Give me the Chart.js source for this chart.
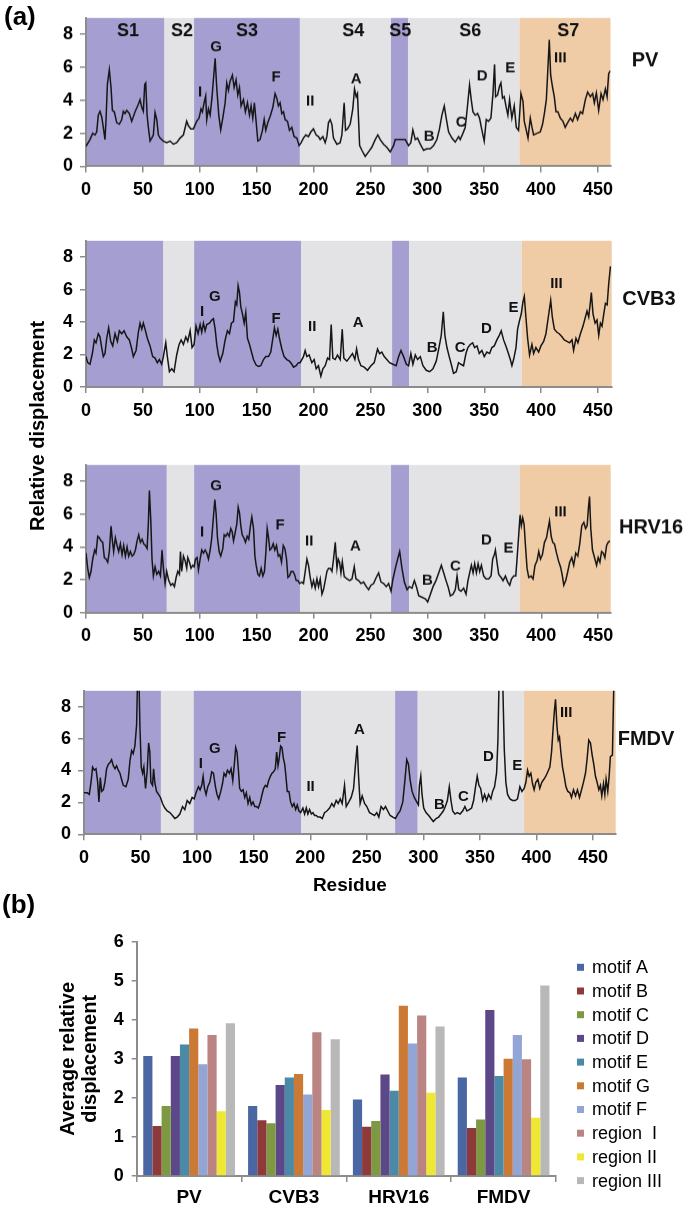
<!DOCTYPE html>
<html><head><meta charset="utf-8">
<script src="https://cdn.jsdelivr.net/npm/chart.js@4.4.1/dist/chart.umd.min.js"></script>
<style>
html,body{margin:0;padding:0;background:#fff;}
#page{position:relative;width:687px;height:1209px;overflow:hidden;font-family:'Liberation Sans',Arial,Helvetica,sans-serif;}
.box{position:absolute;left:0;width:687px;}
.lbl{position:absolute;font-weight:bold;color:#000;white-space:nowrap;}
</style></head><body>
<div id="page">
  <div class="box" id="b1"><canvas id="c1"></canvas></div>
  <div class="box" id="b2"><canvas id="c2"></canvas></div>
  <div class="box" id="b3"><canvas id="c3"></canvas></div>
  <div class="box" id="b4"><canvas id="c4"></canvas></div>
  <div class="box" id="b5"><canvas id="c5"></canvas></div>
  <div class="lbl" style="left:4px;top:3px;font-size:26px;line-height:26px;">(a)</div>
  <div class="lbl" style="left:2px;top:891px;font-size:26px;line-height:26px;">(b)</div>
  <div class="lbl" style="left:-113px;top:414px;width:300px;text-align:center;font-size:20px;line-height:24px;transform:rotate(-90deg);">Relative displacement</div>
</div>
<script>
// ---------------- data ----------------
const pvRes = [0,3.5,5.9,7.9,9.4,10.8,12.3,13.8,15.2,16.7,17.6,18.8,20.5,22,23.2,24.9,27,29.3,31.4,32.8,34.3,35.8,38.1,40.2,43.1,46,47.5,49,50.4,51.6,52.5,53.7,54.8,56.3,57.8,59.2,60.7,62.2,63.6,65.1,68,70.9,73.9,76.8,79.7,82.7,85.6,88.5,90,92.1,94.4,97.3,99.4,101.1,102.3,103.8,105.2,106.1,107.6,109.1,110.8,112.3,113.5,114.9,116.7,118.4,120.2,122.3,123.7,125.2,126.6,128.7,130.2,131.9,133.4,134.9,136.3,138.4,140.1,141.9,143.7,145.1,146.6,148,149.5,151,153,155.1,156.6,158,159.8,161.8,164.2,166.2,167.7,169.1,170.6,172.1,173.6,175,177.1,178.8,180.9,182.9,185.3,187.3,189.1,191.1,193.2,195.5,197.6,199.9,202.3,204.3,205.8,208.2,210.2,211.7,213.1,214.6,216.1,217.5,220.5,223.4,224.9,226.9,228.1,229.8,232.2,234.5,236,237.5,238.6,240.5,242.5,245.4,248.3,251.2,254.2,256.5,258.6,261.5,264.4,267.4,270.3,271.8,276.2,280.6,283.5,285.5,287.3,289.4,291.4,293.8,296.7,299.6,302.6,305.5,308.4,310.7,312.8,314.9,316.6,318.7,321.6,324.5,327.5,328.9,331.3,333.3,334.8,337.1,338.6,340.1,342.1,344.2,345.9,348,350,351.8,353.8,355.9,357.7,359.1,360,361.7,363.5,364.7,366.1,367.6,369.1,370.8,372.3,374.3,376.4,378.2,380.2,382.3,384.1,385.2,387,388.5,390.5,392,393.4,396.4,399.3,401.3,403.1,404.6,405.7,407.2,408.4,410.1,411.6,413.1,414.8,416.9,419.2,421.2,423.3,425.7,427.7,430.1,432.1,434.5,436.5,438.9,440.9,443.3,445.3,446.8,448.6,450.6,452.7,454.4,456.5,458,459.4,460.9];
const pvVal = [1.21,1.62,2.0,1.9,2.08,3.1,3.33,3.0,2.36,1.62,2.8,4.97,5.86,4.78,3.39,3.3,2.64,2.55,2.83,3.33,3.2,3.39,3.2,2.73,3.3,3.76,4.04,3.57,3.33,4.97,5.06,3.1,2.36,1.53,1.71,1.9,3.26,2.83,1.9,1.71,1.53,1.43,1.53,1.34,1.43,1.71,1.9,2.73,2.46,2.27,2.27,2.73,2.92,3.48,3.3,3.85,4.26,2.83,3.48,3.1,4.22,5.53,6.55,4.78,3.1,2.21,2.92,3.85,5.06,4.6,5.15,5.53,4.78,5.24,4.32,4.78,3.66,4.04,3.3,3.85,3.1,3.66,2.92,3.85,2.73,1.53,1.62,2.18,2.83,2.18,2.64,3.01,3.57,4.41,4.13,3.66,3.85,3.2,3.3,2.83,2.73,2.18,2.36,1.8,1.71,1.25,1.43,1.71,1.9,1.8,2.08,2.27,1.9,1.8,1.62,1.8,1.43,1.8,2.64,2.83,2.55,1.71,1.34,1.43,1.9,3.85,2.18,2.27,2.55,3.48,4.69,4.22,4.41,1.25,0.97,0.6,0.87,1.15,1.62,1.9,1.62,1.34,1.15,0.87,1.25,1.62,1.62,1.62,1.25,1.43,2.21,1.62,1.71,1.34,0.97,1.06,1.06,1.25,1.62,2.27,3.1,3.66,2.92,2.08,1.71,1.47,1.8,1.62,2.0,2.36,3.3,4.93,4.04,3.3,3.1,3.2,2.92,2.18,1.53,2.83,2.73,2.92,4.41,6.18,4.22,4.32,4.87,5.06,4.13,4.22,3.66,3.1,4.04,2.92,3.66,2.36,2.18,4.41,3.94,2.73,2.18,1.71,2.92,2.36,1.9,2.0,2.08,2.55,3.3,4.04,5.53,7.67,5.53,4.78,4.22,3.3,3.3,2.92,2.73,2.36,2.64,2.92,2.73,3.2,2.83,3.3,3.2,4.04,4.5,4.22,4.41,3.85,4.45,3.39,4.41,4.04,4.69,4.22,5.62,5.8];

const cvRes = [0,1.5,3.5,5.6,7.3,8.8,10.8,12.3,13.8,15.2,16.7,18.2,19.9,21.7,23.5,25.5,27.6,29.3,31.4,33.4,35.8,38.1,40.2,41.6,44,46,47.5,49,50.4,51.9,53.9,56.3,58.6,60.7,62.7,64.5,66.5,68,70.1,71.5,73.3,75.3,77.4,79.7,81.8,83.6,85.6,87.7,89.4,91.5,93.2,95,96.7,98.5,100.3,101.7,103.2,104.7,106.1,108.5,110.5,112,113.5,114.9,116.4,117.9,120.2,122.3,124.3,126.1,127.8,129.6,131.3,132.5,133.7,134.9,136,137.5,139,140.4,141.9,143.7,145.1,147.2,149.5,151.6,153.6,156,158,160.4,162.4,164.2,165.6,167.1,168.6,170,172.1,174.1,176.5,178.8,180.9,182.4,184.7,186.7,188.2,191.1,192.6,194.1,196.1,198.5,200.5,202.3,204.3,206.4,208.2,210.2,212.3,214,215.5,216.9,219,221,223.4,225.2,226.6,229.3,232.2,234.2,236.3,237.8,239.5,241.6,244.5,247.4,250.4,253.3,256.2,258,260,262.1,264.4,266.8,269.7,272.6,274.7,276.8,279.1,281.5,283.5,285.5,287.3,289.4,291.4,293.8,296.1,299,302,304.9,307.8,310.2,312.2,314,315.4,317.2,319.2,321,323,325.4,327.4,329.5,331.8,333.9,335.6,337.7,339.8,341.5,343.6,345.6,347.9,350,352.3,354.7,356.7,358.8,361.1,363.2,364.9,367,369,370.8,372.9,374.3,375.8,377.9,379.3,380.8,382.5,384,385.2,386.6,388.1,389.8,391.9,393.4,395.4,397.8,399.8,402.2,404.2,406.3,408.4,409.8,411.6,413.9,415.9,418.3,420.3,422.7,425,427.1,428.5,430.6,432.3,434.5,436.8,438.9,440.3,441.8,443.3,444.1,445.6,447.4,449.1,450.6,452.1,453.5,455,456.5,458,459.4,460.9];
const cvVal = [1.87,1.5,1.4,2.06,2.9,2.72,3.28,3.09,2.43,1.87,2.06,3.0,3.65,2.81,2.53,3.28,2.81,3.46,3.28,3.46,3.09,2.9,2.34,1.87,2.25,3.37,3.93,3.56,3.93,3.56,3.0,2.53,1.87,1.78,1.5,1.69,1.4,1.87,2.72,1.87,0.94,1.12,0.94,1.97,2.62,2.9,2.62,3.09,2.81,3.46,2.43,2.62,3.75,3.28,3.84,3.37,3.93,3.46,3.84,3.93,4.12,4.21,3.56,2.62,1.97,1.59,2.06,2.9,3.46,3.28,3.93,4.03,5.24,5.06,6.24,5.81,4.96,4.49,3.93,4.59,3.0,2.62,2.25,1.69,1.35,1.27,1.31,1.69,1.87,1.87,2.15,3.0,3.65,3.18,3.56,3.0,2.34,1.87,1.69,1.59,1.4,1.22,1.31,1.5,1.5,1.87,2.25,1.87,1.97,1.5,1.69,1.12,1.31,0.66,1.12,1.31,1.78,1.69,3.84,1.78,1.69,1.97,1.69,3.56,1.78,1.59,1.87,2.06,1.69,2.34,1.69,1.31,1.22,1.03,1.31,1.5,2.34,2.06,2.15,1.87,1.69,1.5,1.4,1.31,1.87,2.25,1.87,1.4,1.31,2.06,1.4,1.97,1.69,1.87,1.31,1.03,0.94,1.12,1.59,2.43,3.18,4.63,3.18,2.43,1.87,1.4,0.84,0.94,1.5,1.4,1.31,2.06,2.43,2.62,2.72,2.43,2.53,2.06,2.25,1.87,2.15,2.06,2.43,2.53,2.9,3.18,3.46,2.9,2.53,2.15,1.69,1.31,1.69,2.43,3.56,4.03,4.49,5.24,5.58,4.31,3.0,1.97,2.62,2.06,2.43,2.15,2.53,2.81,3.28,4.31,5.34,4.31,3.56,3.37,3.28,3.09,2.9,2.81,2.72,2.9,2.25,3.0,2.72,3.28,3.75,4.31,4.68,4.31,5.24,5.81,4.49,3.93,4.12,3.18,3.93,3.75,4.49,5.15,5.06,6.37,7.43];

const hrRes = [0,1.5,2.9,4.4,5.9,7.6,8.8,10.3,11.7,13.2,14.7,16.1,17.6,19.1,20.5,22,23.2,24.3,25.8,27.3,28.7,30.2,31.7,33.1,34.6,36.1,37.5,39,40.5,41.9,43.4,44.9,46.3,47.8,49.3,50.7,52.2,53.7,54.8,55.7,56.9,58,59.2,60.7,62.2,63.9,65.4,66.8,68,69.5,70.9,72.7,74.5,76.2,77.7,79.2,80.6,82.1,83,84.1,85.6,87.1,88.5,89.4,90.9,92.3,93.8,95,96.2,97.6,98.8,100.3,101.7,103.2,104.7,106.1,107.6,109.1,110.5,112,113.2,114.3,115.5,117,118.4,120.2,121.4,122.8,124.3,125.8,127.2,128.4,129.6,131,132.5,133.7,134.9,136,137.2,138.7,140.1,141.6,143,144.5,145.7,147.2,148.4,149.5,151,152.4,153.9,155.4,156.8,158,159.2,160.4,161.5,163,164.5,165.9,167.4,168.9,170.3,171.8,173.3,174.7,176.2,177.4,178.8,180.3,181.8,183.2,184.7,186.2,187.6,189.7,191.1,192.6,194.1,195.5,197,198.5,199.9,201.4,202.9,204.3,205.8,207.3,208.7,210.2,211.7,213.1,214.6,216.1,217.5,219,220.5,221.6,222.8,224,225.2,226.9,229.3,231.6,233.7,235.7,237.2,239.5,241.6,243.9,246.3,248.3,250.4,252.7,255,257.1,259.2,261.5,263.8,265.9,268,269.7,271.8,273.8,275.6,277.6,279.7,282.1,284.1,286.4,288.5,290.3,292.3,295.3,298.2,300.2,302.6,304.9,307.5,309.9,312.2,314.3,316.3,318.1,320.1,322.5,324.5,326,327.5,329.5,331.8,333.9,335.6,337.1,338.6,340.1,341.5,343,344.5,345.9,347.4,349.4,351.5,353.8,355.9,357.3,358.8,359.7,361.1,362.6,364.7,366.4,368.5,370.5,372.3,373.8,375.8,377.6,378.8,380.2,381.4,382.5,383.7,384.9,386,387.5,389,391,392.8,394.5,396.3,397.8,399.3,401,402.8,404.6,406,407.2,408.7,410.1,411.6,413.4,415.1,416.9,418.3,419.8,421.5,423.3,425,426.8,428.5,430.3,432.1,433.8,435.6,437.4,438.9,440.3,441.5,442.4,443.5,445,446.8,448.6,450,451.5,453,454.4,455.9,457.4,458.8,460.3];
const hrVal = [3.63,2.7,2.14,2.51,3.26,3.81,3.63,4.65,4.56,4.37,4.28,3.35,3.26,3.07,3.72,5.27,4.37,3.72,4.56,4.09,3.72,4.19,3.53,4.09,3.44,4.0,3.44,3.72,3.44,3.53,3.81,4.37,4.74,4.28,4.47,4.19,4.09,3.91,5.49,7.44,5.67,3.26,2.23,2.79,2.33,2.51,2.23,3.81,2.7,1.77,2.51,1.95,1.67,1.77,1.58,2.14,2.51,2.33,3.72,2.51,3.44,3.16,2.7,3.35,3.07,2.7,2.88,2.79,3.26,3.35,2.6,3.26,3.81,3.63,3.81,3.63,3.26,3.81,4.56,5.86,6.88,6.05,4.56,3.72,3.44,3.91,4.74,4.65,4.84,4.65,5.12,4.93,4.37,4.84,5.4,6.42,6.05,5.3,4.74,4.56,4.28,4.65,4.47,5.3,5.82,5.12,3.44,2.88,2.33,2.23,2.7,2.23,2.51,3.63,5.12,4.56,3.81,3.91,4.19,3.81,4.09,3.44,3.53,3.07,4.09,3.91,3.26,2.14,2.23,2.51,2.51,2.33,1.95,1.95,1.77,1.86,1.77,2.51,3.26,2.88,2.14,1.58,1.95,1.49,2.05,1.58,2.05,1.12,1.4,1.95,2.51,2.7,2.7,2.51,3.26,4.28,2.7,3.26,3.07,2.42,3.1,2.2,2.05,1.95,2.05,2.79,2.05,1.95,1.77,1.86,1.58,1.4,1.67,1.77,2.14,2.42,1.86,1.77,1.58,1.77,1.3,2.05,2.7,3.26,3.72,2.7,1.86,1.4,1.58,1.49,1.95,1.58,1.02,0.93,0.84,0.65,1.12,1.58,1.95,2.42,2.88,2.42,1.95,1.58,1.02,1.12,1.4,2.23,1.4,1.3,1.49,1.12,1.95,2.42,2.88,2.42,2.98,2.42,2.98,2.51,2.88,2.23,2.05,2.05,2.23,3.26,3.53,3.81,3.07,2.33,2.14,1.95,2.23,1.86,1.67,2.05,2.23,2.23,3.35,4.74,5.95,5.3,5.77,5.4,4.19,2.7,2.14,2.23,2.05,2.88,3.16,3.72,3.26,3.53,4.28,4.56,5.12,5.58,4.65,4.28,4.19,3.63,3.16,2.79,2.33,1.67,1.95,2.51,3.07,3.35,2.88,3.63,3.44,4.19,5.3,5.49,5.12,5.3,6.42,7.07,5.12,3.81,3.35,2.88,3.35,3.07,3.72,3.63,3.35,4.09,4.28,4.37];

const fmRes = [0,2.9,4.7,6.2,7.6,9.1,10.6,12.1,13.2,14.4,15.6,17.1,18.5,20,21.5,22.9,24.4,25.9,27.4,28.8,30.3,31.8,33.2,34.7,37.1,39.1,40.6,42.1,43.5,45,46.5,47.4,48.5,49.4,50.6,51.8,52.9,54.4,55.9,57.1,58.2,59.1,60.6,61.5,62.6,64.1,65.9,67.6,69.4,71.5,73.5,75.9,78.2,80.3,82.4,84.7,87.1,89.1,91.2,93.5,95.6,97.4,99.4,101.2,102.6,104.1,105.3,106.5,107.9,109.4,111.2,112.9,114.4,116.2,117.6,119.1,120.9,122.4,123.8,125.3,126.8,128.5,130,131.5,132.9,134.1,135.3,136.5,137.6,139.1,140.6,142.1,143.5,145,146.5,147.9,149.4,150.9,152.4,154.1,155.9,157.4,158.8,160.3,161.8,163.2,164.7,166.2,167.6,169.1,170.3,171.5,172.6,173.8,175,176.2,177.4,178.5,179.7,181.2,182.6,184.1,185.6,187.1,188.5,190,191.5,193.5,195,196.5,197.9,199.4,201,202.4,203.8,205.3,206.8,208.8,210.6,212.6,214.7,217.1,219.1,220.9,222.9,224.7,226.5,228.2,230.3,231.8,234.1,236.2,238.3,240,241.5,242.7,244.1,245.9,248,250,252.4,254.7,256.8,258.8,260.6,262.6,264.7,266.5,268.5,270.6,273,275.3,277.4,279.4,281.8,283.5,285.3,286.8,288.2,290,292,294.1,295.6,296.5,297.7,298.8,300.3,302.3,304.7,306.7,308.8,311.2,313.5,315.6,317.6,319.4,321.2,322.9,324.4,325.9,327.9,330,332.4,334.7,336.7,338.5,340.6,342.6,344.4,345.9,347.6,349.1,350.6,352.4,354.1,355.9,357.6,359.7,361.2,362.9,364.7,365.9,367,370,371.5,372.9,374.4,376.5,378.8,381.2,383.2,385.3,387.1,389.1,390.6,392.1,393.5,395,396.5,397.9,399.4,401.2,402.9,404.7,406.5,408.2,410,411.8,413.3,414.7,415.9,416.8,418,419.2,420.3,421.5,423,424.5,426,427.7,429.5,430.9,432.7,434.5,436.2,438,439.8,441.5,443.3,444.8,446.2,447.7,449.2,450.6,452.1,453.6,455.1,456.5,457.7,459.2,460.4,461.5,463,464.2,465.3,467.1,468.5];
const fmVal = [2.6,2.6,2.5,3.26,4.21,4.02,4.11,3.26,2.03,3.55,2.69,2.79,3.26,4.11,4.4,4.49,4.68,4.3,4.11,4.3,4.02,3.83,3.45,3.07,2.98,3.45,4.59,5.25,5.06,5.54,6.86,10,10,6.86,4.21,3.83,4.21,2.88,4.02,5.73,5.16,3.26,3.07,4.11,3.26,2.69,2.5,2.31,1.93,1.65,1.46,1.36,1.18,0.99,1.08,1.27,1.74,1.55,2.12,1.93,2.31,2.22,2.69,2.98,2.79,3.07,3.64,2.88,2.5,2.98,3.26,3.92,3.83,2.98,2.5,2.22,2.69,3.17,3.83,3.64,4.02,3.83,4.11,3.36,4.4,5.44,5.16,4.02,2.88,2.69,2.79,2.31,2.6,1.93,2.31,1.84,2.03,1.74,1.74,1.65,2.03,2.5,2.88,3.07,2.98,3.36,3.64,3.83,3.92,4.11,5.16,4.3,4.78,5.54,5.44,4.78,4.4,3.64,2.69,2.69,2.03,1.74,1.93,1.55,1.84,1.46,1.36,1.65,1.27,1.65,1.27,1.55,1.27,1.36,1.18,1.18,1.08,1.08,0.99,1.36,1.46,1.65,1.93,1.74,2.12,1.93,2.22,1.93,3.07,1.74,2.03,2.31,2.88,4.4,5.57,3.64,1.93,2.41,1.93,1.74,1.36,1.27,1.18,1.36,1.08,1.74,1.55,1.74,1.46,1.18,1.08,0.99,1.27,1.46,2.03,3.26,4.68,4.4,3.45,2.69,2.31,2.03,1.84,3.07,3.64,2.5,1.65,1.36,1.18,0.99,0.8,0.99,1.08,1.27,1.46,1.74,2.12,2.98,2.12,1.46,1.27,1.36,1.27,1.46,1.74,1.46,1.55,1.65,2.12,2.88,3.64,3.07,2.88,2.12,2.5,2.12,2.5,2.22,2.69,2.98,3.83,5.91,10,10,5.35,3.26,2.5,2.22,2.12,2.12,2.22,2.98,2.69,2.88,3.26,4.02,3.64,3.83,3.17,2.79,3.26,3.45,2.88,3.26,3.45,3.64,3.92,4.21,5.16,6.67,7.81,8.47,6.86,5.91,6.1,5.16,4.21,3.64,2.98,2.69,2.6,2.31,2.79,2.41,2.79,2.31,2.79,3.26,3.83,4.78,5.91,5.73,4.97,4.4,3.64,3.26,2.79,3.07,2.41,3.17,2.5,3.45,2.69,3.64,4.87,4.97,10];

// segment boundaries (residue numbers) for the shaded regions S1..S7
const pvBounds = [0,69,95,188,268,283,381,461];
const cvBounds = [0,68,95,189,269,284,383,462];
const hrBounds = [0,71,95,188,268,284,381,461];
const fmBounds = [0,68,97,192,275,295,389,470];
const segNames = ['S1','S2','S3','S4','S5','S6','S7'];
const segAt = [36.9,84.4,141.6,234.8,276.2,337.7,423.9];

// motif / region labels: [text, residue, displacement]
const pvMarks = [['G',114.3,7.23],['I',100.3,4.5],['F',167.1,5.39],['II',197,3.94],['A',237.5,5.28],['B',301.7,1.82],['C',329.8,2.66],['D',348.3,5.45],['E',372.9,5.95],['III',416.9,6.56]];
const cvMarks = [['G',113.2,5.53],['I',102,4.64],['F',167.1,4.18],['II',198.8,3.69],['A',239.2,3.92],['B',304.3,2.4],['C',328.9,2.4],['D',351.8,3.58],['E',375.6,4.87],['III',413.4,6.33]];
const hrMarks = [['G',114.3,7.69],['I',102,4.9],['F',170.6,5.35],['II',196.1,4.34],['A',236.6,4.06],['B',299.9,1.94],['C',324.5,2.83],['D',351.8,4.4],['E',371.2,3.89],['III',416.9,6.13]];
const fmMarks = [['G',115.6,5.35],['I',103.2,4.44],['F',174.7,6.03],['II',200.3,2.96],['A',243.5,6.54],['B',314.1,1.82],['C',335.3,2.33],['D',357.4,4.84],['E',382.9,4.32],['III',426.2,7.62]];

const yTicksLine = [0,2,4,6,8];

// panel (b)
const viruses = ['PV','CVB3','HRV16','FMDV'];
const seriesNames = ['motif A','motif B','motif C','motif D','motif E','motif G','motif F','region  I','region II','region III'];
const motifA = [3.07,1.79,1.96,2.52];
const motifB = [1.28,1.43,1.26,1.23];
const motifC = [1.79,1.35,1.41,1.45];
const motifD = [3.07,2.33,2.60,4.25];
const motifE = [3.37,2.52,2.18,2.56];
const motifG = [3.78,2.61,4.36,3.00];
const motifF = [2.86,2.09,3.39,3.61];
const regionI = [3.61,3.68,4.11,2.99];
const regionII = [1.66,1.69,2.13,1.49];
const regionIII = [3.91,3.50,3.83,4.88];

// ---------------- styles ----------------
const FONT = "'Liberation Sans', Arial, Helvetica, sans-serif";
const AXIS = '#8c8c8c';
const SHADE = ['#a59fd1','#e3e3e6','#a59fd1','#e3e3e6','#a59fd1','#e3e3e6','#f0cca6'];
const BARCOL = ['#4a67a3','#8e3a3a','#7d9a43','#5c4889','#4a8aa6','#cb7934','#92a5d5','#ba8483','#eee835','#b8b8b8'];

const shadePlugin = {
  id: 'shade',
  beforeDraw(chart, args, opts) {
    const {ctx, chartArea: a, scales: {x}} = chart;
    const b = opts.bounds;
    ctx.save();
    for (let i = 0; i < b.length - 1; i++) {
      const x0 = x.getPixelForValue(b[i]), x1 = x.getPixelForValue(b[i + 1]);
      ctx.fillStyle = SHADE[i];
      ctx.fillRect(x0, a.top, x1 - x0, a.bottom - a.top);
    }
    ctx.restore();
  }
};

const markPlugin = {
  id: 'marks',
  afterDatasetsDraw(chart, args, opts) {
    const {ctx, scales: {x, y}} = chart;
    ctx.save();
    ctx.fillStyle = '#111';
    ctx.textAlign = 'center';
    ctx.textBaseline = 'middle';
    ctx.font = 'bold 15px ' + FONT;
    opts.marks.forEach(([t, r, v]) => ctx.fillText(t, x.getPixelForValue(r), y.getPixelForValue(v)));
    if (opts.segs) {
      ctx.font = 'bold 18px ' + FONT;
      segNames.forEach((t, i) => ctx.fillText(t, x.getPixelForValue(segAt[i]), y.getPixelForValue(8.18)));
    }
    ctx.font = 'bold 20px ' + FONT;
    ctx.fillText(opts.name[0], opts.name[1], y.getPixelForValue(opts.name[2]));
    ctx.restore();
  }
};

function makeLine(boxId, canvasId, res, val, bounds, marks, name, geo, segs, withTitle) {
  const box = document.getElementById(boxId);
  const top = Math.max(0, geo.top - 4);
  const xh = withTitle ? 63 : 30;
  box.style.top = top + 'px';
  box.style.height = (geo.bottom - top + xh + 4) + 'px';
  const pts = res.map((r, i) => ({x: r, y: val[i]}));
  new Chart(document.getElementById(canvasId), {
    type: 'line',
    data: {datasets: [{data: pts, borderColor: '#161616', borderWidth: 1.5, pointRadius: 0, tension: 0, fill: false}]},
    plugins: [shadePlugin, markPlugin],
    options: {
      responsive: true, maintainAspectRatio: false, animation: false,
      layout: {padding: {left: geo.left - 40, right: 687 - geo.right, top: geo.top - top, bottom: 4}},
      plugins: {legend: {display: false}, tooltip: {enabled: false},
        shade: {bounds}, marks: {marks, name, segs}},
      scales: {
        x: {type: 'linear', min: 0, max: geo.max,
          afterFit(s) { s.height = xh; },
          ticks: {stepSize: 50, includeBounds: false, autoSkip: false, maxRotation: 0, padding: 7, color: '#000', font: {family: FONT, size: 18, weight: 'bold'}},
          grid: {display: true, drawOnChartArea: false, drawTicks: true, tickLength: 6, color: AXIS, lineWidth: 1.5},
          border: {display: true, color: AXIS, width: 2},
          title: {display: !!withTitle, text: 'Residue', color: '#000', padding: 0, font: {family: FONT, size: 19, weight: 'bold', lineHeight: 1.2}}
        },
        y: {min: 0, max: 9,
          afterFit(s) { s.width = 40; },
          afterBuildTicks(s) { s.ticks = yTicksLine.map(v => ({value: v})); },
          ticks: {padding: 7, color: '#000', font: {family: FONT, size: 18, weight: 'bold'}},
          grid: {display: true, drawOnChartArea: false, drawTicks: true, tickLength: 6, color: AXIS, lineWidth: 1.5},
          border: {display: true, color: AXIS, width: 2}
        }
      }
    }
  });
}

makeLine('b1', 'c1', pvRes, pvVal, pvBounds, pvMarks, ['PV', 645, 6.4], {top: 4.3, bottom: 165.7, left: 86, right: 610.5, max: 461}, true, false);
makeLine('b2', 'c2', cvRes, cvVal, cvBounds, cvMarks, ['CVB3', 649, 5.38], {top: 226.7, bottom: 386.7, left: 86, right: 611.7, max: 462}, false, false);
makeLine('b3', 'c3', hrRes, hrVal, hrBounds, hrMarks, ['HRV16', 651, 5.18], {top: 451, bottom: 611.7, left: 86, right: 610.7, max: 461}, false, false);
makeLine('b4', 'c4', fmRes, fmVal, fmBounds, fmMarks, ['FMDV', 646, 5.94], {top: 676.7, bottom: 834, left: 84, right: 615.7, max: 470}, false, true);

// ---------------- bar chart ----------------
const barLegend = {
  id: 'barLegend',
  afterDraw(chart) {
    const ctx = chart.ctx;
    ctx.save();
    ctx.font = '18px ' + FONT;
    ctx.textBaseline = 'middle';
    ctx.textAlign = 'left';
    chart.data.datasets.forEach((d, i) => {
      const y = 47.3 + i * 23.7;
      ctx.fillStyle = d.backgroundColor;
      ctx.fillRect(577, y - 3.5, 7, 7);
      ctx.fillStyle = '#000';
      ctx.fillText(d.label, 592, y + 1);
    });
    ctx.restore();
  }
};

(function () {
  const box = document.getElementById('b5');
  box.style.top = '920px';
  box.style.height = '289px';
  const values = [motifA, motifB, motifC, motifD, motifE, motifG, motifF, regionI, regionII, regionIII];
  new Chart(document.getElementById('c5'), {
    type: 'bar',
    data: {labels: viruses, datasets: values.map((v, i) => ({label: seriesNames[i], data: v, backgroundColor: BARCOL[i], borderWidth: 0, categoryPercentage: 0.875, barPercentage: 1.0}))},
    plugins: [barLegend],
    options: {
      responsive: true, maintainAspectRatio: false, animation: false,
      layout: {padding: {left: 57, right: 131, top: 21.7, bottom: 3}},
      plugins: {legend: {display: false}, tooltip: {enabled: false}},
      scales: {
        x: {afterFit(s) { s.height = 30; },
          ticks: {padding: 4, color: '#000', font: {family: FONT, size: 19, weight: 'bold'}},
          grid: {offset: true, display: true, drawOnChartArea: false, drawTicks: true, tickLength: 6, color: AXIS, lineWidth: 1.5},
          border: {display: true, color: AXIS, width: 2}
        },
        y: {min: 0, max: 6,
          afterFit(s) { s.width = 79.7; },
          ticks: {stepSize: 1, padding: 8, color: '#000', font: {family: FONT, size: 18, weight: 'bold'}},
          grid: {display: true, drawOnChartArea: false, drawTicks: true, tickLength: 5, color: AXIS, lineWidth: 1.5},
          border: {display: true, color: AXIS, width: 2},
          title: {display: true, text: ['Average relative', 'displacement'], color: '#000', padding: 0, font: {family: FONT, size: 20, weight: 'bold', lineHeight: 1.1}}
        }
      }
    }
  });
})();
</script>
</body></html>
